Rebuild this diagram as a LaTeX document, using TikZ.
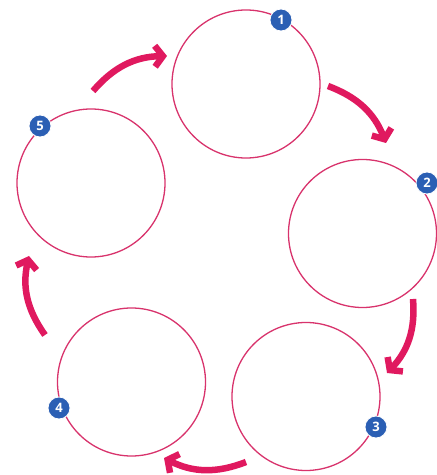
\documentclass[tikz,border=0pt]{standalone}
\usepackage{fontspec}
\newfontfamily\badgefont{Open Sans}
\usetikzlibrary{arrows.meta}
\definecolor{ringpink}{HTML}{D8336C}
\definecolor{arrowpink}{HTML}{E0195F}
\definecolor{badgeblue}{HTML}{2B5FB4}
\tikzset{
  ring/.style={circle,draw=ringpink,line width=1.3pt,minimum size=148pt,inner sep=0pt},
  badge/.style={circle,fill=badgeblue,draw=white,line width=0.8pt,minimum size=22pt,inner sep=0pt,text=white,font=\badgefont\bfseries\fontsize{13}{13}\selectfont},
  cyc/.style={draw=arrowpink,line width=6.5pt,-{Straight Barb[length=8pt,width=21pt]},bend left=24}
}
\begin{document}
\begin{tikzpicture}[x=1pt,y=1pt]
\useasboundingbox (0,0) rectangle (437,475);
\node[ring] (c1) at (246,391) {};
\node[ring] (c2) at (362.5,241.5) {};
\node[ring] (c3) at (306,78.5) {};
\node[ring] (c4) at (131.5,93) {};
\node[ring] (c5) at (91,292) {};
\node[badge] (b1) at (281,455) {1};
\node[badge] (b2) at (427,292) {2};
\node[badge] (b3) at (376,48) {3};
\node[badge] (b4) at (59,67) {4};
\node[badge] (b5) at (40,349) {5};
\coordinate (t51) at (93,384); \coordinate (h51) at (167,419);
\coordinate (t12) at (328,389); \coordinate (h12) at (386,332);
\coordinate (t23) at (413,176); \coordinate (h23) at (387,102);
\coordinate (t34) at (246,13);  \coordinate (h34) at (164,17);
\coordinate (t45) at (45,140);  \coordinate (h45) at (29,219);
\draw[cyc] (t51) to (h51);
\draw[cyc] (t12) to (h12);
\draw[cyc] (t23) to (h23);
\draw[cyc] (t34) to (h34);
\draw[cyc] (t45) to (h45);
\end{tikzpicture}
\end{document}
